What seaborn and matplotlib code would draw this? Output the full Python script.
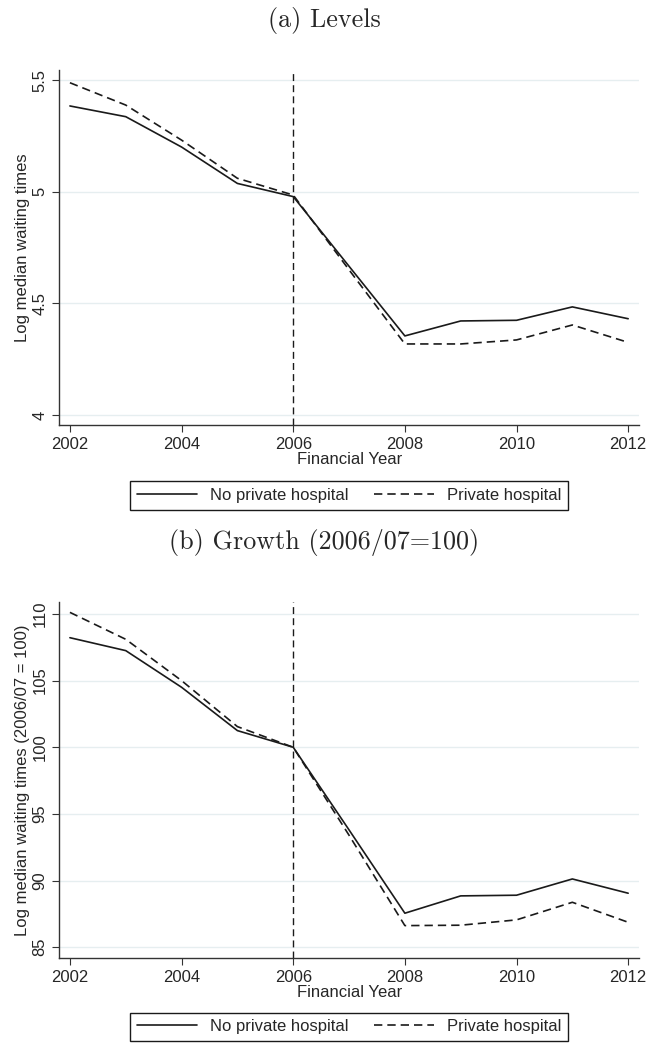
import pandas as pd
import seaborn as sns
import matplotlib.pyplot as plt

# === Data ===
years = list(range(2002, 2013))
groups = ['No private hospital', 'Private hospital']

levels_no_private = [5.384, 5.336, 5.200, 5.037, 4.978, 4.666, 4.354, 4.421, 4.424, 4.484, 4.431]
levels_private = [5.488, 5.388, 5.231, 5.060, 4.985, 4.650, 4.318, 4.318, 4.336, 4.403, 4.325]

growth_no_private = [108.22, 107.25, 104.5, 101.25, 100.0, 93.8, 87.55, 88.85, 88.9, 90.12, 89.05]
growth_private = [110.12, 108.1, 105.0, 101.55, 100.0, 93.4, 86.62, 86.65, 87.05, 88.37, 86.87]

levels_ticks = [4, 4.5, 5, 5.5]
levels_ticklabels = ['4', '4.5', '5', '5.5']
growth_ticks = [85, 90, 95, 100, 105, 110]
x_ticks = [2002, 2004, 2006, 2008, 2010, 2012]


def long_frame(a, b):
    return pd.DataFrame({
        'year': years * 2,
        'value': a + b,
        'group': [groups[0]] * len(years) + [groups[1]] * len(years),
    })


df_levels = long_frame(levels_no_private, levels_private)
df_growth = long_frame(growth_no_private, growth_private)

sns.set_theme(style='ticks')
plt.rcParams['font.family'] = ['Liberation Sans', 'DejaVu Sans']

fig = plt.figure(figsize=(6.49, 10.45), dpi=100)
ax1 = fig.add_axes([0.0914, 0.5933, 0.8937, 0.3397])
ax2 = fig.add_axes([0.0914, 0.0830, 0.8937, 0.3412])

panels = [
    (ax1, df_levels, 'Log median waiting times', (3.955, 5.545), levels_ticks, levels_ticklabels, -0.135),
    (ax2, df_growth, 'Log median waiting times (2006/07 = 100)', (84.17, 110.92),
     growth_ticks, [str(t) for t in growth_ticks], -0.129),
]

for ax, df, ylabel, ylim, yticks, yticklabels, leg_y in panels:
    for t in yticks:
        ax.axhline(t, color='#e6eef0', lw=1.0, zorder=0)
    ax.axvline(2006, color='k', lw=1.0, ls=(0, (5, 3)), zorder=1)
    sns.lineplot(data=df, x='year', y='value', style='group', color='k',
                 dashes={groups[0]: '', groups[1]: (5, 3)}, lw=1.2, ax=ax, zorder=2)
    ax.set_xlim(2001.81, 2012.2)
    ax.set_ylim(*ylim)
    ax.set_xticks(x_ticks)
    ax.set_yticks(yticks)
    ax.set_yticklabels(yticklabels, rotation=90, va='center')
    ax.tick_params(labelsize=12, length=5, width=0.8, color='#333333')
    ax.set_xlabel('Financial Year', fontsize=12, labelpad=0)
    ax.set_ylabel(ylabel, fontsize=12, labelpad=2)
    for s in ['top', 'right']:
        ax.spines[s].set_visible(False)
    for s in ['left', 'bottom']:
        ax.spines[s].set_linewidth(1.0)
        ax.spines[s].set_color('#333333')
    handles, labels = ax.get_legend_handles_labels()
    ax.legend(handles, labels, loc='upper center', bbox_to_anchor=(0.5, leg_y), ncol=2,
              frameon=True, fancybox=False, edgecolor='k', fontsize=12,
              handlelength=3.6, columnspacing=1.5, borderpad=0.4, framealpha=1)
    ax.get_legend().get_frame().set_linewidth(1.0)

fig.text(0.5, 1 - 21 / 1045, '(a) Levels', ha='center', va='center', family='cmr10', fontsize=18.8)
fig.text(0.5, 1 - 543 / 1045, '(b) Growth (2006/07=100)', ha='center', va='center',
         family='cmr10', fontsize=18.8)

fig.savefig('out.png', dpi=100)
